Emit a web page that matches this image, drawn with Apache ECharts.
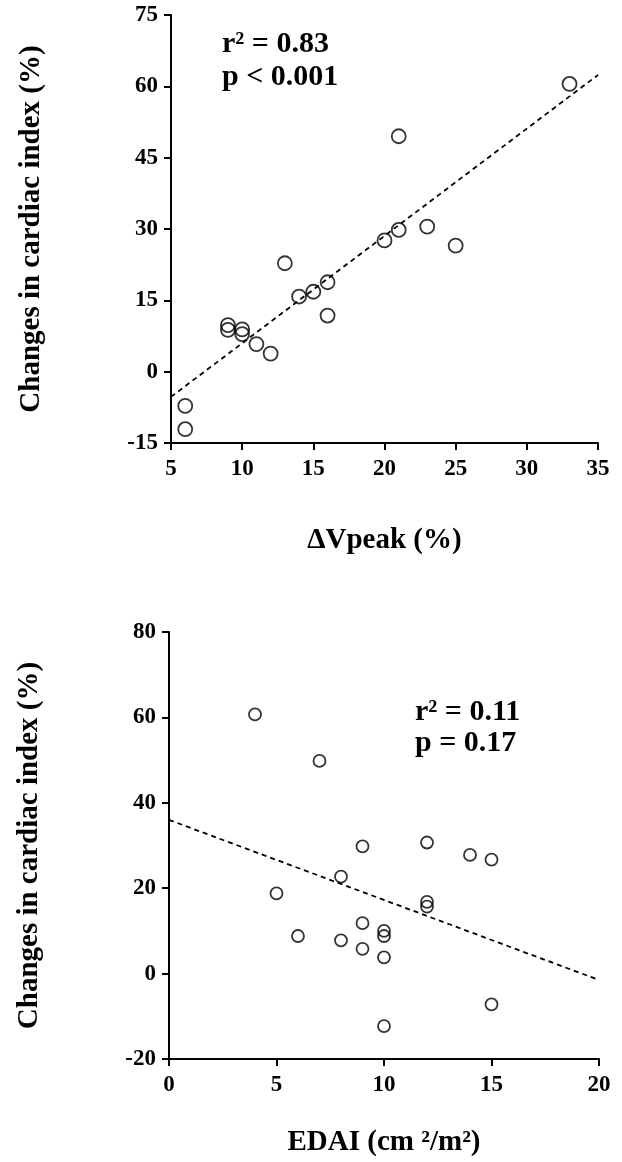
<!DOCTYPE html>
<html>
<head>
<meta charset="utf-8">
<script src="https://cdn.jsdelivr.net/npm/echarts@6/dist/echarts.min.js"></script>
<style>
  html, body { margin: 0; padding: 0; background: #fff; }
  #chart { width: 622px; height: 1162px; }
</style>
</head>
<body>
<div id="chart"></div>
<script>
// top panel: dVpeak vs change in cardiac index
const topX = [33, 21, 23, 21, 20, 25, 13, 16, 15, 14, 16, 9, 9, 10, 10, 11, 12, 6, 6]
const topY = [60.5, 49.5, 30.5, 29.8, 27.6, 26.5, 22.8, 18.8, 16.8, 15.8, 11.8, 9.8, 8.8, 8.9, 7.9, 5.8, 3.8, -7.2, -12.1]
const topFitX = [5, 35]
const topFitY = [-5.3, 62.4]

// bottom panel: EDAI vs change in cardiac index
const bottomX = [4, 7, 9, 12, 14, 15, 8, 5, 12, 12, 9, 6, 10, 10, 8, 9, 10, 10, 15]
const bottomY = [60.7, 49.8, 29.8, 30.7, 27.8, 26.7, 22.7, 18.8, 16.8, 15.7, 11.8, 8.8, 10, 8.8, 7.8, 5.8, 3.8, -12.3, -7.2]
const bottomFitX = [0, 20]
const bottomFitY = [36, -1.5]

const topStats = ['r² = 0.83', 'p < 0.001']
const bottomStats = ['r² = 0.11', 'p = 0.17']

const font = 'Liberation Serif'
const zip = (xs, ys) => xs.map((x, i) => [x, ys[i]])

const axisCommon = {
  axisLine: { show: true, onZero: false, lineStyle: { color: '#000', width: 2 } },
  axisTick: { show: true, length: 7, lineStyle: { color: '#000', width: 2 } },
  splitLine: { show: false },
  nameLocation: 'middle',
  nameTextStyle: { fontFamily: font, fontWeight: 'bold', fontSize: 29, color: '#000' }
}

const labelStyle = (margin) => ({
  fontFamily: font, fontWeight: 'bold', fontSize: 23, color: '#000', margin: margin
})

const statText = (text, x, y) => ({
  type: 'text',
  x: x,
  y: y,
  style: {
    text: text,
    fill: '#000',
    font: 'bold 30px "Liberation Serif"',
    verticalAlign: 'middle'
  }
})

const chart = echarts.init(document.getElementById('chart'))

chart.setOption({
  backgroundColor: '#fff',
  animation: false,
  grid: [
    { left: 171, top: 15, width: 427, height: 428 },
    { left: 169, top: 632, width: 430, height: 427 }
  ],
  xAxis: [
    {
      ...axisCommon,
      gridIndex: 0, type: 'value', min: 5, max: 35, interval: 5,
      name: 'ΔVpeak (%)', nameGap: 83,
      axisLabel: labelStyle(15)
    },
    {
      ...axisCommon,
      gridIndex: 1, type: 'value', min: 0, max: 20, interval: 5,
      name: 'EDAI (cm ²/m²)', nameGap: 69,
      axisLabel: labelStyle(15)
    }
  ],
  yAxis: [
    {
      ...axisCommon,
      gridIndex: 0, type: 'value', min: -15, max: 75, interval: 15,
      name: 'Changes in cardiac index (%)', nameGap: 125,
      axisLabel: labelStyle(13)
    },
    {
      ...axisCommon,
      gridIndex: 1, type: 'value', min: -20, max: 80, interval: 20,
      name: 'Changes in cardiac index (%)', nameGap: 125,
      axisLabel: labelStyle(13)
    }
  ],
  series: [
    {
      type: 'line',
      xAxisIndex: 0, yAxisIndex: 0,
      data: zip(topFitX, topFitY),
      symbol: 'none',
      lineStyle: { color: '#000', width: 1.8, type: [5, 4] }
    },
    {
      type: 'scatter',
      xAxisIndex: 0, yAxisIndex: 0,
      data: zip(topX, topY),
      symbol: 'circle',
      symbolSize: 14,
      itemStyle: { color: 'rgba(0,0,0,0)', borderColor: '#000', borderWidth: 1.8 }
    },
    {
      type: 'line',
      xAxisIndex: 1, yAxisIndex: 1,
      data: zip(bottomFitX, bottomFitY),
      symbol: 'none',
      lineStyle: { color: '#000', width: 1.8, type: [5, 4] }
    },
    {
      type: 'scatter',
      xAxisIndex: 1, yAxisIndex: 1,
      data: zip(bottomX, bottomY),
      symbol: 'circle',
      symbolSize: 12,
      itemStyle: { color: 'rgba(0,0,0,0)', borderColor: '#000', borderWidth: 1.8 }
    }
  ],
  graphic: [
    statText(topStats[0], 222, 44),
    statText(topStats[1], 222, 77),
    statText(bottomStats[0], 415, 712),
    statText(bottomStats[1], 415, 743)
  ]
})
</script>
</body>
</html>
